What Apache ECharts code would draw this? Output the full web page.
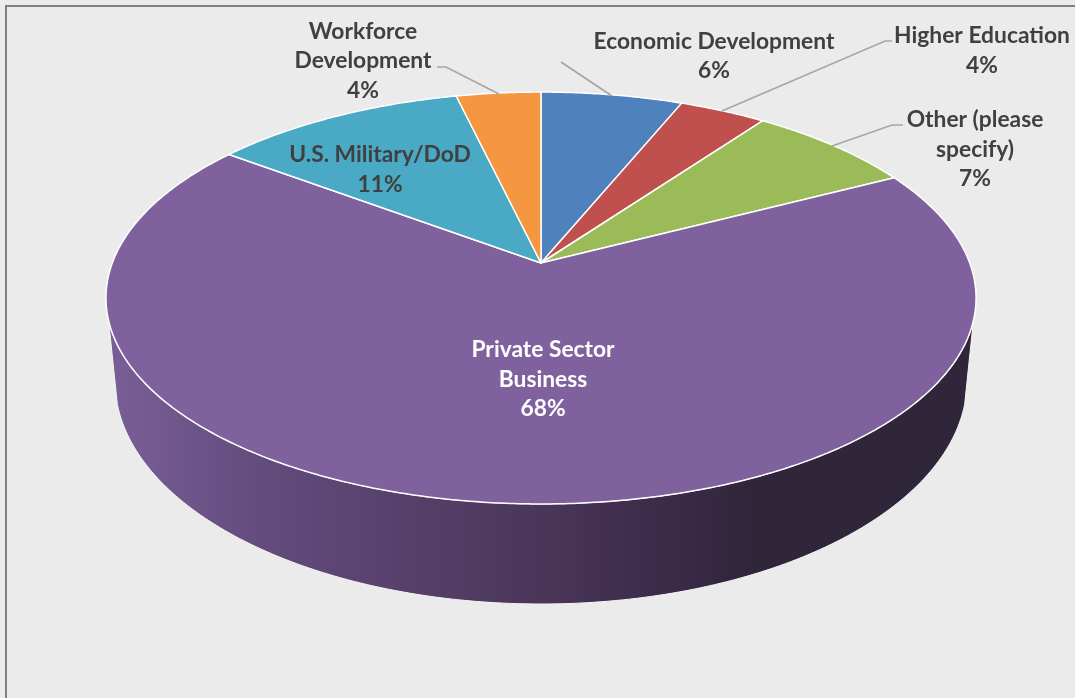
<!DOCTYPE html>
<html>
<head>
<meta charset="utf-8">
<title>Pie</title>
<script src="https://cdn.jsdelivr.net/npm/echarts@6/dist/echarts.min.js"></script>
<style>
html,body{margin:0;padding:0;background:#ebebeb;}
#main{width:1075px;height:698px;}
</style>
</head>
<body>
<div id="main"></div>
<script>
// values, clockwise from 12 o'clock
var categories = ['Economic Development', 'Higher Education', 'Other (please specify)', 'Private Sector Business', 'U.S. Military/DoD', 'Workforce Development'];
var values = [6.2, 3.8, 7.4, 67.8, 11.1, 3.7];
var sliceColors = ['#4f81bd', '#c0504d', '#9bbb59', '#7f619e', '#4aa9c4', '#f59641'];
// how the names wrap in the labels
var labelLines = [['Economic Development'], ['Higher Education'], ['Other (please', 'specify)'], ['Private Sector', 'Business'], ['U.S. Military/DoD'], ['Workforce', 'Development']];
var labelColors = ['#404040', '#404040', '#404040', '#ffffff', '#404040', '#404040'];

// layout of the tilted pie
var apexX = 541, apexY = 263;
var scaleU = 428.7, scaleV = 200, persp = 0.17;
var bottomCy = 381, bottomRx = 426, bottomRy = 223;
var labelPos = [[714, 56], [982, 50.5], [975, 149.5], [543, 379.5], [380, 169.5], [363, 61]];
var leaders = [
	[[561, 62], [612, 96]],
	[[892, 41], [885, 41], [722, 111]],
	[[903, 125], [892, 125], [832, 146]],
	null,
	null,
	[[437, 67], [446, 67], [499, 94]]
];
var TOTAL = values.reduce(function(a, b) { return a + b; }, 0);

// point on the rim for a pie angle (radians, clockwise from the top)
function rim(t) {
	var u = Math.sin(t), v = Math.cos(t), w = 1 + persp * v;
	return [apexX + scaleU * u / w, apexY - scaleV * v / w];
}
function bottomRim(t) {
	return [apexX + bottomRx * Math.cos(t), bottomCy + bottomRy * Math.sin(t)];
}

function wallPoints() {
	var pts = [], t;
	// top rim, left to right along the front
	for (t = 254; t >= 106; t -= 1) {
		pts.push(rim(t * Math.PI / 180));
	}
	// bottom rim, right to left along the front
	for (t = 6; t <= 174; t += 1) {
		pts.push(bottomRim(t * Math.PI / 180));
	}
	return pts;
}

function renderSlice(params, api) {
	var i = params.dataIndex, before = 0, k;
	for (k = 0; k < i; k++) before += values[k];
	var a0 = before / TOTAL * 2 * Math.PI;
	var a1 = (before + api.value(0)) / TOTAL * 2 * Math.PI;
	var pts = [[apexX, apexY]];
	var steps = Math.ceil((a1 - a0) / (Math.PI / 360));
	for (k = 0; k <= steps; k++) {
		pts.push(rim(a0 + (a1 - a0) * k / steps));
	}
	var children = [];
	// only the biggest slice shows its side
	if (api.value(0) === Math.max.apply(null, values)) {
		children.push({
			type: 'polygon',
			shape: {points: wallPoints()},
			style: {
				fill: new echarts.graphic.LinearGradient(0, 0, 1, 0, [
					{offset: 0, color: '#7a5f97'},
					{offset: 0.17, color: '#644c7e'},
					{offset: 0.5, color: '#4a3659'},
					{offset: 0.66, color: '#3a2947'},
					{offset: 0.75, color: '#2f2639'},
					{offset: 1, color: '#2f2639'}
				]),
				stroke: '#f4f4f4',
				lineWidth: 1
			}
		});
	}
	children.push({
		type: 'polygon',
		shape: {points: pts},
		style: {fill: sliceColors[i], stroke: '#ffffff', lineWidth: 1.5, lineJoin: 'round'}
	});
	if (leaders[i]) {
		children.push({
			type: 'polyline',
			shape: {points: leaders[i]},
			style: {fill: null, stroke: '#a6a6a6', lineWidth: 1.7}
		});
	}
	children.push({
		type: 'text',
		z2: 10,
		style: {
			x: labelPos[i][0],
			y: labelPos[i][1],
			text: labelLines[i].concat(Math.round(api.value(0)) + '%').join('\n'),
			fill: labelColors[i],
			font: 'bold 22.8px Lato, sans-serif',
			lineHeight: 29.5,
			align: 'center',
			verticalAlign: 'middle'
		}
	});
	return {type: 'group', children: children};
}

var myChart = echarts.init(document.getElementById('main'));
var option = {
	backgroundColor: '#ebebeb',
	animation: false,
	graphic: [{
		type: 'rect',
		shape: {x: 6, y: 6, width: 1300, height: 1000},
		style: {fill: null, stroke: '#808080', lineWidth: 2},
		silent: true
	}],
	series: [{
		type: 'custom',
		coordinateSystem: 'none',
		renderItem: renderSlice,
		data: values.map(function(v, idx) {
			return {name: categories[idx], value: [v]};
		})
	}]
};
myChart.setOption(option);
</script>
</body>
</html>
